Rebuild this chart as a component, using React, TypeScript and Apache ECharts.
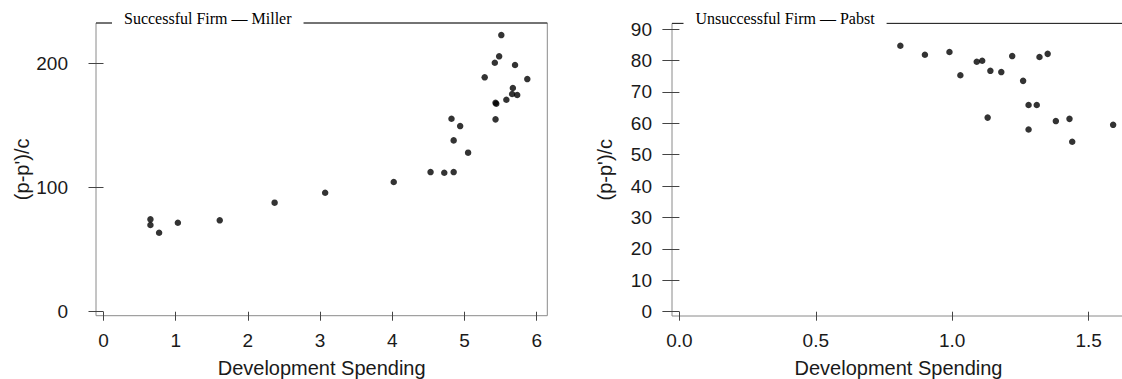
import React, { useEffect, useRef } from "react";
import * as echarts from "echarts";

// Successful firm — Miller
const millerSpending = [0.65, 0.65, 0.77, 1.03, 1.61, 2.37, 3.07, 4.02, 4.53, 4.72, 4.82, 4.85, 4.85, 4.94, 5.05, 5.28, 5.42, 5.43, 5.43, 5.44, 5.48, 5.51, 5.58, 5.66, 5.67, 5.7, 5.73, 5.87];
const millerRatio = [74.3, 69.7, 63.5, 71.6, 73.5, 87.7, 95.7, 104.3, 112.3, 111.8, 155.2, 137.8, 112.3, 149.3, 127.9, 188.5, 200.2, 168.1, 154.7, 167.3, 205.4, 222.5, 170.5, 175.1, 179.9, 198.4, 174.3, 187.1];

// Unsuccessful firm — Pabst
const pabstSpending = [0.81, 0.9, 0.99, 1.03, 1.09, 1.11, 1.14, 1.13, 1.18, 1.22, 1.26, 1.28, 1.31, 1.28, 1.32, 1.35, 1.38, 1.43, 1.44, 1.59];
const pabstRatio = [84.7, 81.8, 82.7, 75.3, 79.6, 79.9, 76.7, 61.8, 76.3, 81.4, 73.5, 65.8, 65.8, 58.0, 81.1, 82.1, 60.7, 61.4, 54.1, 59.5];

const leftXTicks = [0, 1, 2, 3, 4, 5, 6];
const leftYTicks = [0, 100, 200];
const rightXTicks = [0, 0.5, 1.0, 1.5];
const rightYTicks = [0, 10, 20, 30, 40, 50, 60, 70, 80, 90];

const leftTitle = "Successful Firm \u2014 Miller";
const rightTitle = "Unsuccessful Firm \u2014 Pabst";
const xName = "Development Spending";
const yName = "(p-p')/c";

const SANS = "'Liberation Sans', Arial, sans-serif";
const SERIF = "'Liberation Serif', 'Times New Roman', serif";

export default function App() {
  const ref = useRef<HTMLDivElement>(null);
  useEffect(() => {
    if (!ref.current) return;
    const chart = echarts.init(ref.current, undefined, { renderer: "svg" });
    const tickLabel = { fontFamily: SANS, fontSize: 19, color: "#1a1a1a" };
    const nameStyle = { fontFamily: SANS, fontSize: 20, color: "#1a1a1a", lineHeight: 20 };
    const L = { left: 96, top: 23, width: 451.3, height: 292.7 };
    const R = { left: 672, top: 23.4, width: 453, height: 292.6 };
    chart.setOption({
      animation: false,
      backgroundColor: "#fff",
      title: [
        {
          text: leftTitle,
          left: 112,
          top: 7.6,
          padding: [3, 12, 3, 12],
          backgroundColor: "#fff",
          textStyle: { fontFamily: SERIF, fontSize: 16, fontWeight: "normal", color: "#000", lineHeight: 16 },
          z: 10,
        },
        {
          text: rightTitle,
          left: 683.5,
          top: 7.6,
          padding: [3, 12, 3, 12],
          backgroundColor: "#fff",
          textStyle: { fontFamily: SERIF, fontSize: 16, fontWeight: "normal", color: "#000", lineHeight: 16 },
          z: 10,
        },
      ],
      graphic: [
        { type: "line", z: 5, shape: { x1: L.left, y1: L.top, x2: L.left + L.width, y2: L.top }, style: { stroke: "#222", lineWidth: 1 } },
        { type: "line", z: 5, shape: { x1: R.left, y1: R.top, x2: R.left + R.width, y2: R.top }, style: { stroke: "#222", lineWidth: 1 } },
      ],
      grid: [
        { ...L, outerBoundsMode: "none", containLabel: false, show: true, borderColor: "#8a8a8a", borderWidth: 1, backgroundColor: "transparent" },
        { ...R, outerBoundsMode: "none", containLabel: false, show: true, borderColor: "#8a8a8a", borderWidth: 1, backgroundColor: "transparent" },
      ],
      xAxis: [
        {
          gridIndex: 0,
          type: "value",
          min: -0.104,
          max: 6.147,
          offset: 1,
          axisLine: { show: false },
          splitLine: { show: false },
          axisTick: { show: true, length: 9, customValues: leftXTicks, lineStyle: { color: "#444" } },
          axisLabel: { ...tickLabel, margin: 14, customValues: leftXTicks, formatter: (v: number) => String(v) },
          name: xName,
          nameLocation: "middle",
          nameGap: 41,
          nameTextStyle: nameStyle,
        },
        {
          gridIndex: 1,
          type: "value",
          min: -0.0271,
          max: 1.6335,
          offset: 1,
          axisLine: { show: false },
          splitLine: { show: false },
          axisTick: { show: true, length: 9, customValues: rightXTicks, lineStyle: { color: "#444" } },
          axisLabel: { ...tickLabel, margin: 14, customValues: rightXTicks, formatter: (v: number) => v.toFixed(1) },
          name: xName,
          nameLocation: "middle",
          nameGap: 41,
          nameTextStyle: nameStyle,
        },
      ],
      yAxis: [
        {
          gridIndex: 0,
          type: "value",
          min: -3.2,
          max: 232.2,
          axisLine: { show: false },
          splitLine: { show: false },
          axisTick: { show: true, length: 15, customValues: leftYTicks, lineStyle: { color: "#444" } },
          axisLabel: { ...tickLabel, margin: 28, customValues: leftYTicks, formatter: (v: number) => String(v) },
          name: yName,
          nameLocation: "middle",
          nameGap: 62,
          nameRotate: 90,
          nameTextStyle: nameStyle,
        },
        {
          gridIndex: 1,
          type: "value",
          min: -1.37,
          max: 91.8,
          axisLine: { show: false },
          splitLine: { show: false },
          axisTick: { show: true, length: 17, customValues: rightYTicks, lineStyle: { color: "#444" } },
          axisLabel: { ...tickLabel, margin: 20, customValues: rightYTicks, formatter: (v: number) => String(v) },
          name: yName,
          nameLocation: "middle",
          nameGap: 57,
          nameRotate: 90,
          nameTextStyle: nameStyle,
        },
      ],
      series: [
        {
          type: "scatter",
          xAxisIndex: 0,
          yAxisIndex: 0,
          symbol: "circle",
          symbolSize: 6.5,
          itemStyle: { color: "#000" },
          data: millerSpending.map((x, i) => [x, millerRatio[i]]),
        },
        {
          type: "scatter",
          xAxisIndex: 1,
          yAxisIndex: 1,
          symbol: "circle",
          symbolSize: 6.5,
          itemStyle: { color: "#000" },
          data: pabstSpending.map((x, i) => [x, pabstRatio[i]]),
        },
      ],
    });
    return () => chart.dispose();
  }, []);
  return (
    <div
      ref={ref}
      style={{ position: "absolute", left: 0, top: 0, width: 1122, height: 379, background: "#fff" }}
    />
  );
}
